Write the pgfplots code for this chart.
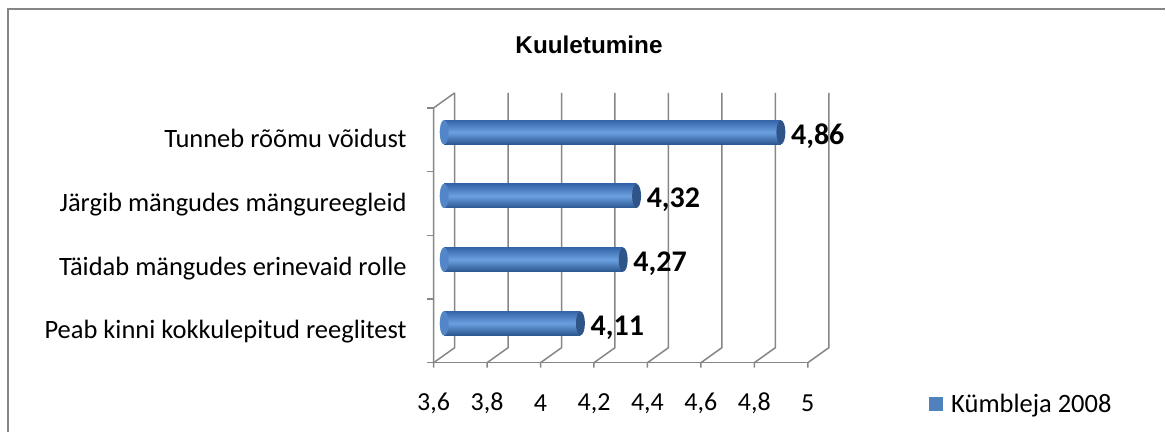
\documentclass[border=0pt]{standalone}
\usepackage{pgfplots}
\pgfplotsset{compat=1.18}
\usetikzlibrary{shapes.geometric}
\usepackage{fontspec}
\setmainfont{Carlito}
\newfontfamily\arialfont{Liberation Sans}
\definecolor{gridc}{HTML}{868686}
\definecolor{bartop}{HTML}{3566AA}
\definecolor{barmid}{HTML}{6AA0E0}
\definecolor{barbot}{HTML}{2B568F}
\definecolor{capc}{HTML}{2F5588}
\definecolor{legc}{HTML}{4F81BD}
\pgfkeys{/pgf/number format/assume math mode=true}
\pgfplotsset{
  cylbar/.style={xbar, bar shift=0pt, draw=none, forget plot,
    top color=bartop, bottom color=barbot, middle color=barmid,
    nodes near coords={},
    every node near coord/.append style={ellipse, fill=capc, minimum width=9pt, minimum height=24pt, inner sep=0pt, anchor=center}},
}
\begin{document}
\begin{tikzpicture}
\path (0,0) rectangle (1166pt,432pt);
\draw[gridc, line width=2pt] (8pt,0) -- (8pt,423pt) -- (1166pt,423pt);
\node[font=\arialfont\fontsize{24.3}{26}\selectfont\bfseries] at (589.5pt,387pt) {Kuuletumine};
\begin{axis}[
  at={(444.5pt,76.5pt)}, anchor=south west,
  width=374.5pt, height=255pt, scale only axis,
  set layers,
  xmin=3.6, xmax=5, ymin=-0.5, ymax=3.5,
  axis line style={draw=none},
  xtick={3.6,3.8,4,4.2,4.4,4.6,4.8,5},
  ytick={0,1,2,3},
  yticklabels={Peab kinni kokkulepitud reeglitest, Täidab mängudes erinevaid rolle\hspace{6pt}, Järgib mängudes mängureegleid, Tunneb rõõmu võidust},
  major tick length=0pt,
  tick style={draw=none},
  xticklabel style={anchor=center, xshift=-10.5pt, yshift=-48.5pt, font=\fontsize{26}{29}\selectfont, /pgf/number format/use comma},
  yticklabel style={anchor=base east, xshift=-34pt, yshift=-15.5pt, font=\fontsize{26.5}{30}\selectfont},
  bar width=24pt,
  legend style={at={(1.296,-0.19)}, anchor=west, draw=none, fill=none, font=\fontsize{26.5}{30}\selectfont, inner sep=0pt, nodes={inner sep=0pt, inner xsep=4pt}},
  legend cell align=left,
  after end axis/.code={
    \begin{pgfonlayer}{axis background}
    \foreach \x in {3.6,3.8,4,4.2,4.4,4.6,4.8,5}{
      \draw[gridc, line width=1.5pt] ([xshift=-10.5pt,yshift=-12.5pt]axis cs:\x,-0.5) -- ([xshift=-10.5pt,yshift=-7.5pt]axis cs:\x,-0.5) -- ([xshift=10.5pt,yshift=7.5pt]axis cs:\x,-0.5) -- ([xshift=10.5pt,yshift=7.5pt]axis cs:\x,3.5);
    }
    \draw[gridc, line width=1.5pt] ([xshift=-10.5pt,yshift=-7.5pt]axis cs:3.6,-0.5) -- ([xshift=-10.5pt,yshift=-7.5pt]axis cs:5,-0.5);
    \draw[gridc, line width=1.5pt] ([xshift=-10.5pt,yshift=-7.5pt]axis cs:3.6,-0.5) -- ([xshift=-10.5pt,yshift=-7.5pt]axis cs:3.6,3.5) -- ([xshift=10.5pt,yshift=7.5pt]axis cs:3.6,3.5);
    \foreach \y in {-0.5,0.5,1.5,2.5,3.5}{
      \draw[gridc, line width=1.5pt] ([xshift=-10.5pt,yshift=-7.5pt]axis cs:3.6,\y) -- ++(-7pt,0);
    }
    \end{pgfonlayer}
  },
]
\addplot[cylbar] coordinates {(4.11,0)};
\addplot[cylbar] coordinates {(4.27,1)};
\addplot[cylbar] coordinates {(4.32,2)};
\addplot[cylbar] coordinates {(4.86,3)};
\addplot[only marks, mark=*, mark size=12pt, forget plot,
  mark options={xscale=0.35, draw=bartop!45!barmid, fill=bartop!45!barmid}]
  coordinates {(3.6,0) (3.6,1) (3.6,2) (3.6,3)};
\addplot[xbar, bar shift=0pt, draw=none, fill=none, forget plot,
  nodes near coords={\pgfmathprintnumber[fixed, fixed zerofill, precision=2, use comma]{\pgfplotspointmeta}},
  every node near coord/.append style={anchor=west, inner sep=0pt, xshift=10pt, yshift=-4pt, font=\fontsize{30}{33}\selectfont\bfseries, text=black}]
  coordinates {(4.11,0) (4.27,1) (4.32,2) (4.86,3)};
\addlegendimage{draw=none, legend image code/.code={\fill[legc] (0pt,-7pt) rectangle (14pt,7pt);}}
\addlegendentry{\hspace{4pt}Kümbleja 2008}
\end{axis}
\end{tikzpicture}
\end{document}
